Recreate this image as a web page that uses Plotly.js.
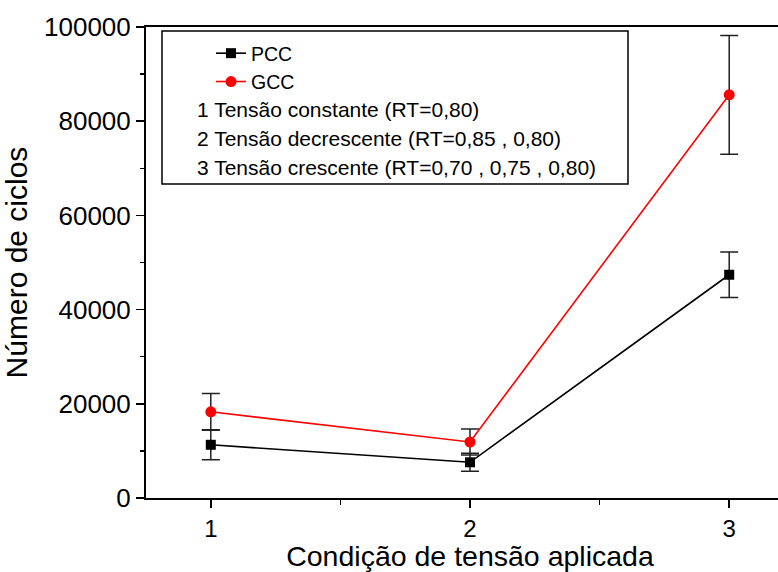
<!DOCTYPE html>
<html>
<head>
<meta charset="utf-8">
<script src="https://cdn.plot.ly/plotly-3.0.1.min.js"></script>
<style>html,body{margin:0;padding:0;background:#fff;overflow:hidden}#chart{width:794px;height:572px}</style>
</head>
<body>
<div id="chart"></div>
<script>
const conditions = [1, 2, 3];
const pccValues = [11300, 7580, 47400];
const pccErrors = [3200, 1900, 4850];
const gccValues = [18300, 11890, 85600];
const gccErrors = [3900, 2760, 12600];
const noteLines = [
  "1 Tensão constante (RT=0,80)",
  "2 Tensão decrescente (RT=0,85 , 0,80)",
  "3 Tensão crescente (RT=0,70 , 0,75 , 0,80)"
];

const FONT = "Liberation Sans, Arial, sans-serif";

const traces = [
  {
    x: conditions, y: pccValues, name: "PCC", type: "scatter", mode: "lines+markers",
    line: {color: "#000000", width: 1.6},
    marker: {symbol: "square", size: 10, color: "#000000"},
    error_y: {type: "data", array: pccErrors, visible: true, color: "#222222", thickness: 1.5, width: 9}
  },
  {
    x: conditions, y: gccValues, name: "GCC", type: "scatter", mode: "lines+markers",
    line: {color: "#ff0000", width: 1.6},
    marker: {symbol: "circle", size: 11, color: "#ff0000"},
    error_y: {type: "data", array: gccErrors, visible: true, color: "#222222", thickness: 1.5, width: 9}
  }
];

// the chart is wider than the window; its right part is cut off as in the reference
const FULLW = 794;
const L = 146, T = 27, W = FULLW - L, H = 471;
const px = (x) => (x - L) / W;
const py = (y) => 1 - (y - T) / H;

const annotations = noteLines.map((t, i) => ({
  text: t, xref: "paper", yref: "paper",
  x: px(195), y: py([110, 139, 168][i]),
  xanchor: "left", yanchor: "middle", showarrow: false,
  font: {family: FONT, size: 21, color: "#000"}
}));

const layout = {
  width: FULLW, height: 572,
  margin: {l: L, r: 0, t: T, b: 74},
  paper_bgcolor: "#fff", plot_bgcolor: "#fff",
  font: {family: FONT, color: "#000"},
  showlegend: true,
  legend: {
    x: px(211), y: py(34), xanchor: "left", yanchor: "top",
    bgcolor: "rgba(0,0,0,0)", borderwidth: 0,
    font: {family: FONT, size: 19.5, color: "#000"},
    tracegroupgap: 0
  },
  xaxis: {
    range: [0.75, 3.25],
    tickvals: conditions, ticktext: ["1", "2", "3"],
    ticks: "outside", ticklen: 8, tickwidth: 1.5, tickcolor: "#000",
    minor: {tickvals: [1.5, 2.5], ticks: "outside", ticklen: 5, tickwidth: 1.5, tickcolor: "#000"},
    showline: true, linecolor: "#000", linewidth: 2, mirror: true,
    showgrid: false, zeroline: false,
    tickfont: {family: FONT, size: 24, color: "#000"},
    title: {text: "Condição de tensão aplicada", font: {family: FONT, size: 28.5, color: "#000"}, standoff: 6}
  },
  yaxis: {
    range: [0, 100000],
    dtick: 20000, tick0: 0,
    ticks: "outside", ticklen: 8, tickwidth: 1.5, tickcolor: "#000",
    minor: {dtick: 10000, ticks: "outside", ticklen: 4, tickwidth: 1.5, tickcolor: "#000"},
    showline: true, linecolor: "#000", linewidth: 2, mirror: false,
    showgrid: false, zeroline: false,
    tickformat: "d",
    tickfont: {family: FONT, size: 26, color: "#000"},
    title: {text: "Número de ciclos", font: {family: FONT, size: 30, color: "#000"}, standoff: 10}
  },
  shapes: [
    {type: "rect", xref: "paper", yref: "paper", x0: px(162), x1: px(628), y0: py(184), y1: py(31),
     line: {color: "#000", width: 1.5}, fillcolor: "rgba(0,0,0,0)"}
  ],
  annotations: annotations
};

Plotly.newPlot("chart", traces, layout, {displayModeBar: false, staticPlot: true});
</script>
</body>
</html>
